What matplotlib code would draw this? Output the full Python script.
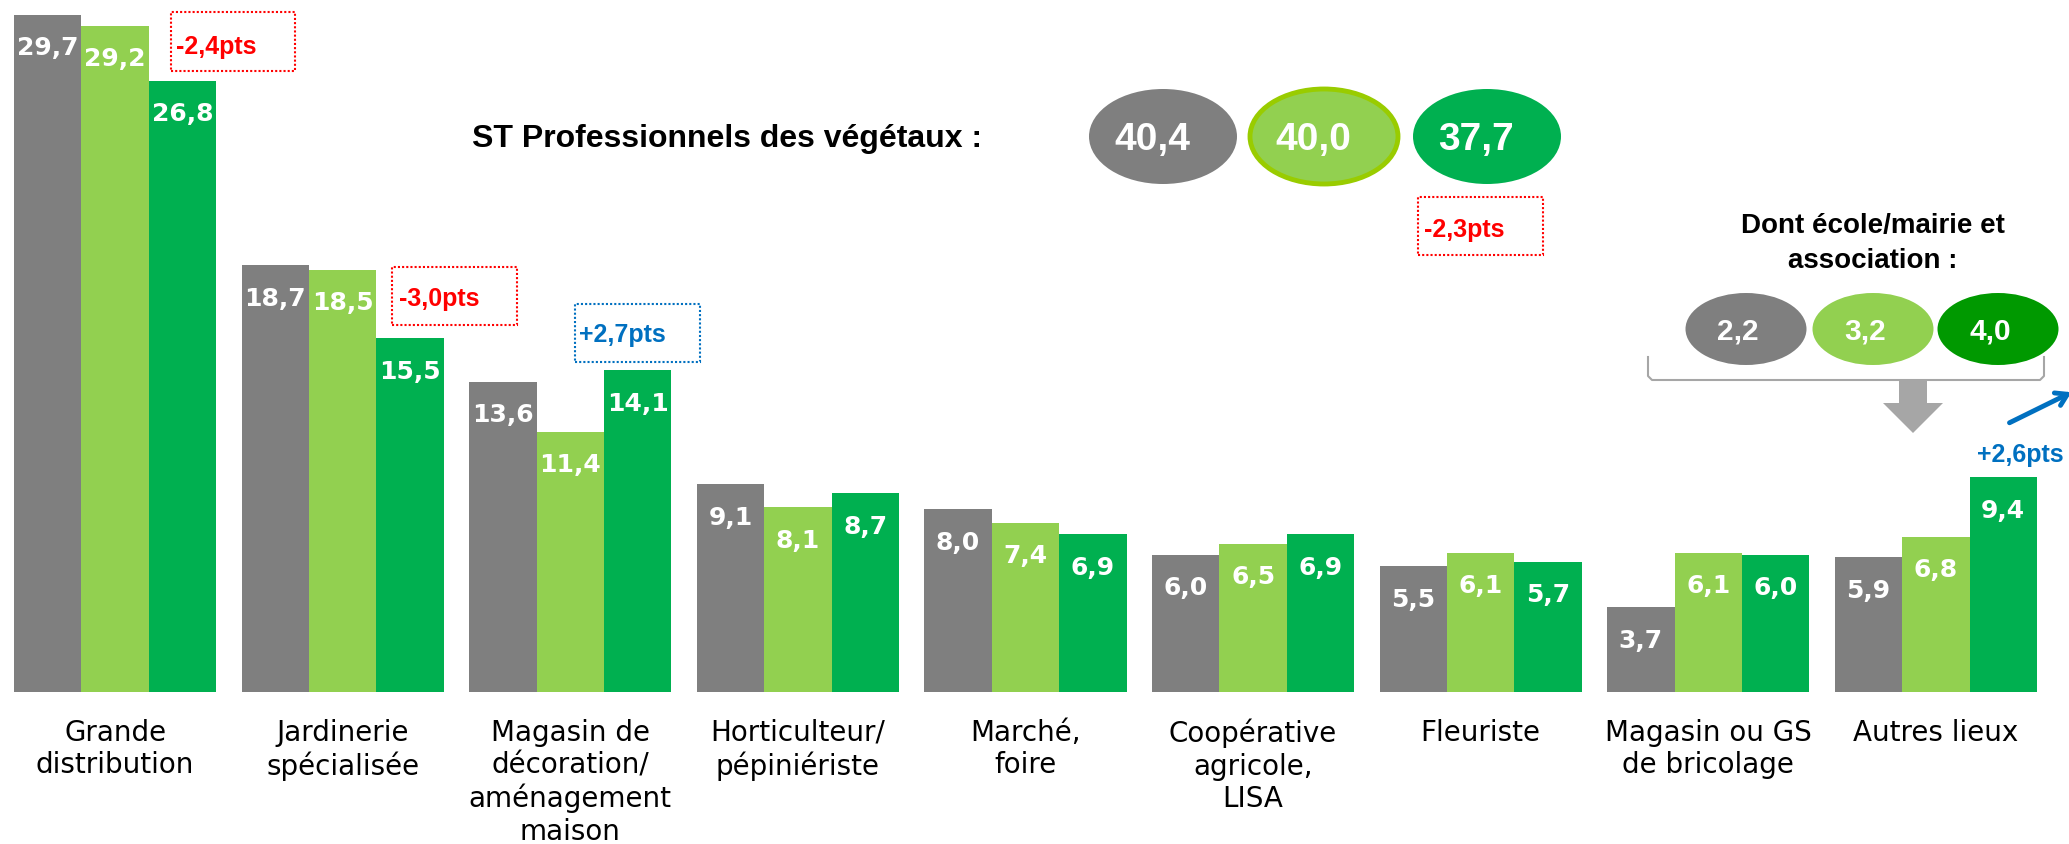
import matplotlib
matplotlib.use('Agg')
import matplotlib.pyplot as plt
import numpy as np
from matplotlib.patches import Ellipse, Rectangle, Polygon, FancyArrowPatch
from matplotlib.lines import Line2D

categories = ['Grande\ndistribution', 'Jardinerie\nspécialisée',
              'Magasin de\ndécoration/\naménagement\nmaison',
              'Horticulteur/\npépiniériste', 'Marché,\nfoire',
              'Coopérative\nagricole,\nLISA', 'Fleuriste',
              'Magasin ou GS\nde bricolage', 'Autres lieux']
vals_gray = [29.7, 18.7, 13.6, 9.1, 8.0, 6.0, 5.5, 3.7, 5.9]
vals_light = [29.2, 18.5, 11.4, 8.1, 7.4, 6.5, 6.1, 6.1, 6.8]
vals_green = [26.8, 15.5, 14.1, 8.7, 6.9, 6.9, 5.7, 6.0, 9.4]
st_totals = [40.4, 40.0, 37.7]
dont_totals = [2.2, 3.2, 4.0]

GRAY = '#7F7F7F'
LIGHT = '#92D050'
GREEN = '#00B050'
RED = '#FF0000'
BLUE = '#0070C0'
ARIAL = ['Liberation Sans', 'DejaVu Sans']

W, H = 2069, 844


def fx(px):
    return px / W


def fy(py):
    return 1 - py / H


def pts(px):
    # pixels -> points at dpi 100
    return px * 0.72


def fmt(v):
    return '{:.1f}'.format(v).replace('.', ',')


fig = plt.figure(figsize=(W / 100, H / 100), dpi=100)
ax = fig.add_axes([0, 0, 1, 1])
ax.set_xlim(-0.5057, 8.585)
ax.set_ylim(-6.68, 30.34)
ax.axis('off')

x = np.arange(len(categories))
w = 0.2961
for off, vals, col in zip([-w, 0, w], [vals_gray, vals_light, vals_green], [GRAY, LIGHT, GREEN]):
    bars = ax.bar(x + off, vals, width=w, color=col, linewidth=0)
    for b, v in zip(bars, vals):
        ax.annotate(fmt(v), xy=(b.get_x() + b.get_width() / 2, v),
                    xytext=(0, -pts(40.5)), textcoords='offset points',
                    ha='center', va='baseline', color='white',
                    fontsize=18, fontweight='bold', family='DejaVu Sans')

for i, lab in enumerate(categories):
    ax.annotate(lab, xy=(i, 0), xytext=(0, -pts(27)), textcoords='offset points',
                ha='center', va='top', fontsize=20, family='DejaVu Sans',
                color='black', linespacing=1.2)

# ST Professionnels
fig.text(fx(472), fy(146.7), 'ST Professionnels des végétaux :', ha='left', va='baseline',
         fontsize=23, fontweight='bold', family=ARIAL)
st_centers = [1163, 1324, 1487]
st_colors = [GRAY, LIGHT, GREEN]
for cx, v, col in zip(st_centers, st_totals, st_colors):
    edge = '#99CC00' if col == LIGHT else 'none'
    e = Ellipse((fx(cx), fy(136.5)), 148 / W, 95 / H, transform=fig.transFigure,
                facecolor=col, edgecolor=edge, linewidth=3.5)
    fig.add_artist(e)
    fig.text(fx(cx - 11), fy(136.5), fmt(v), ha='center', va='center_baseline',
             fontsize=28, fontweight='bold', family=ARIAL, color='white')

# Dont ecole/mairie
fig.text(fx(1873), fy(232.7), 'Dont école/mairie et', ha='center', va='baseline',
         fontsize=20, fontweight='bold', family=ARIAL)
fig.text(fx(1873), fy(268.3), 'association :', ha='center', va='baseline',
         fontsize=20, fontweight='bold', family=ARIAL)
dont_centers = [1746, 1873, 1998]
dont_colors = [GRAY, LIGHT, '#009900']
for cx, v, col in zip(dont_centers, dont_totals, dont_colors):
    e = Ellipse((fx(cx), fy(329)), 121 / W, 72 / H, transform=fig.transFigure,
                facecolor=col, edgecolor='none')
    fig.add_artist(e)
    fig.text(fx(cx - 8), fy(329), fmt(v), ha='center', va='center_baseline',
             fontsize=21.5, fontweight='bold', family=ARIAL, color='white')

# bracket
bx = [1648, 1648, 1652, 2040, 2044, 2044]
by = [357, 376, 380, 380, 376, 357]
fig.add_artist(Line2D([fx(p) for p in bx], [fy(p) for p in by], transform=fig.transFigure,
                      color='#A6A6A6', linewidth=1.5))

# grey down arrow
arr = [(1899, 380), (1927, 380), (1927, 403), (1943, 403), (1913, 433), (1883, 403), (1899, 403)]
fig.add_artist(Polygon([(fx(a), fy(b)) for a, b in arr], closed=True, transform=fig.transFigure,
                       facecolor='#A6A6A6', edgecolor='none'))

# blue arrow
fig.add_artist(FancyArrowPatch((fx(2007), fy(424)), (fx(2074), fy(391)), transform=fig.transFigure,
                               arrowstyle='->,head_length=8,head_width=5', color=BLUE,
                               linewidth=3.5, mutation_scale=1))
fig.text(fx(1977), fy(461.7), '+2,6pts', ha='left', va='baseline', fontsize=18,
         fontweight='bold', family=ARIAL, color=BLUE)

# dotted difference boxes
boxes = [
    ('-2,4pts', RED, 170.7, 12, 295, 70.7, 175.7, 54),
    ('-3,0pts', RED, 391.5, 266.7, 516.5, 325, 398.7, 306),
    ('+2,7pts', BLUE, 575, 304, 700, 361.7, 579, 342.3),
    ('-2,3pts', RED, 1418, 196.7, 1543, 255, 1424, 237),
]
for txt, col, x0, y0, x1, y1, tx, ty in boxes:
    fig.add_artist(Rectangle((fx(x0), fy(y1)), (x1 - x0) / W, (y1 - y0) / H,
                             transform=fig.transFigure, fill=False, edgecolor=col,
                             linewidth=1.5, linestyle=(0, (1, 1))))
    fig.text(fx(tx), fy(ty), txt, ha='left', va='baseline', fontsize=18,
             fontweight='bold', family=ARIAL, color=col)

plt.savefig('out.png', dpi=100)
